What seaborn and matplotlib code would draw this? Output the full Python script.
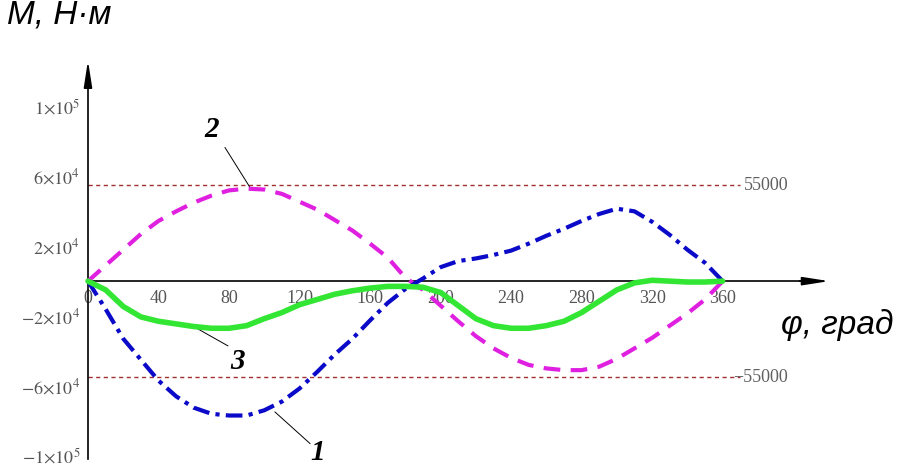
import numpy as np
import pandas as pd
import matplotlib
matplotlib.use("Agg")
import matplotlib.pyplot as plt
import seaborn as sns

# angle grid, degrees
phi = list(range(0, 361, 10))

# curve 1 (blue, dash-dot)
m1 = [0, -16000, -33000, -45000, -57000, -66000, -72500, -76000, -77000, -77000,
      -74000, -69000, -61500, -52000, -42000, -33000, -22500, -12500, -4500, 1500,
      8000, 11500, 13000, 15000, 17500, 21500, 26000, 30000, 34500, 38500,
      41500, 40000, 34000, 26500, 18000, 10500, 0]
# curve 2 (magenta, dashed)
m2 = [0, 9000, 18000, 27000, 34500, 40000, 45000, 49000, 52000, 53000,
      52500, 50000, 45500, 41000, 35000, 29000, 21500, 13500, 2000, -5000,
      -14000, -23000, -31500, -38500, -44000, -48000, -50000, -51000, -51000, -49000,
      -44500, -38500, -32500, -25500, -18500, -10500, 0]
# curve 3 (green, solid)
m3 = [0, -5000, -14500, -20500, -23000, -24500, -26000, -27000, -27000, -25500,
      -21500, -18000, -13500, -10500, -7500, -5500, -4000, -3000, -3000, -3500,
      -6500, -14000, -21500, -25500, -27000, -27000, -25500, -23000, -18000, -11500,
      -5000, -1000, 500, 0, -500, -500, 0]

limit = 55000
xticks = [0, 40, 80, 120, 160, 200, 240, 280, 320, 360, 400]
xlabels = ["0", "40", "80", "120", "160", "200", "240", "280", "320", "360", ""]
yticks = [-100000, -60000, -20000, 20000, 60000, 100000]
ylabels = [r"$-1{\times}10^{5}$", r"$-6{\times}10^{4}$", r"$-2{\times}10^{4}$",
           r"$2{\times}10^{4}$", r"$6{\times}10^{4}$", r"$1{\times}10^{5}$"]

df = pd.DataFrame({"phi": phi, "m1": m1, "m2": m2, "m3": m3})

sns.set_style("white")
plt.rcParams["mathtext.fontset"] = "stix"
plt.rcParams["font.family"] = ["Liberation Serif", "DejaVu Serif"]

fig = plt.figure(figsize=(9.06, 4.67), dpi=100)
ax = fig.add_axes([0, 0, 1, 1])
ax.set_xlim(-49.9, 464)
ax.set_ylim(-106500, 161100)

# limit lines
for v in (limit, -limit):
    ax.plot([0, 370], [v, v], color="#a03030", lw=1.0, ls=(0, (3, 2.5)), zorder=1)
ax.text(372, limit, "55000", color="#606060", fontsize=13, va="center", ha="left")
ax.text(366, -limit, "\u221255000", color="#606060", fontsize=13, va="center", ha="left")

sns.lineplot(data=df, x="phi", y="m2", ax=ax, color="#e020e0", lw=3.0,
             ls=(0, (4, 2.5)), zorder=3)
sns.lineplot(data=df, x="phi", y="m1", ax=ax, color="#0a0ac8", lw=3.0,
             ls=(0, (4, 1.5, 1, 1.5)), zorder=3)
sns.lineplot(data=df, x="phi", y="m3", ax=ax, color="#33e633", lw=4.0, zorder=4)

# Mathcad-like axes crossing at zero
for s in ("top", "right"):
    ax.spines[s].set_visible(False)
ax.spines["left"].set_position(("data", 0))
ax.spines["bottom"].set_position(("data", 0))
ax.spines["left"].set_bounds(-102000, 115000)
ax.spines["bottom"].set_bounds(0, 405)
for s in ("left", "bottom"):
    ax.spines[s].set_color("black")
    ax.spines[s].set_linewidth(1.2)
ax.annotate("", xy=(0, 128000), xytext=(0, 112000),
            arrowprops=dict(arrowstyle="-|>,head_length=1.6,head_width=0.25",
                            color="black", lw=1.2))
ax.annotate("", xy=(422, 0), xytext=(402, 0),
            arrowprops=dict(arrowstyle="-|>,head_length=1.6,head_width=0.25",
                            color="black", lw=1.2))

ax.set_xticks(xticks)
ax.set_xticklabels(xlabels)
ax.set_yticks(yticks)
ax.set_yticklabels(ylabels)
ax.tick_params(axis="both", direction="inout", length=9, width=1.2, colors="black",
               labelcolor="#555555", labelsize=13)
ax.tick_params(axis="x", pad=2)
ax.tick_params(axis="y", pad=1)
ax.set_xlabel("")
ax.set_ylabel("")

# axis titles
ttl = dict(fontsize=24, style="italic", family=["Liberation Sans", "DejaVu Sans"],
           va="center", ha="left", color="black")
ax.text(-46, 152500, "М, Н·м", **ttl)
ax.text(393, -25000, "φ, град", **ttl)

# curve numbers with leader lines
lab = dict(fontsize=21, fontweight="bold", style="italic", color="black",
           ha="center", va="center")
ax.text(70.4, 86900, "2", **lab)
ax.plot([77.7, 91.9], [76600, 53700], color="black", lw=0.7)
ax.text(85.1, -45900, "3", bbox=dict(facecolor="white", edgecolor="none", pad=1), **lab)
ax.plot([79.4, 62.4], [-37100, -27400], color="black", lw=0.7)
ax.text(130.5, -98300, "1", **lab)
ax.plot([126, 106], [-93100, -74900], color="black", lw=0.7)

fig.savefig("out.png", dpi=100)
